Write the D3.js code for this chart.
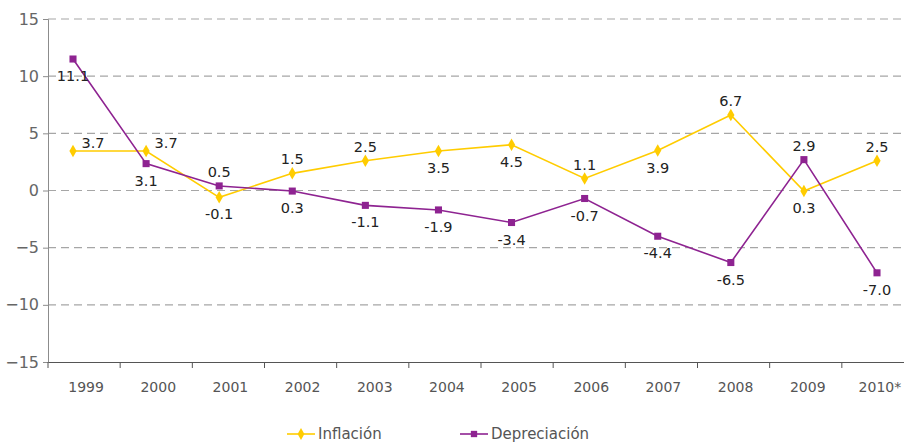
<!DOCTYPE html>
<html>
<head>
<meta charset="utf-8">
<script src="https://cdn.jsdelivr.net/npm/d3@7"></script>
<style>
  body { margin: 0; background: #fff; }
  svg { display: block; font-family: "DejaVu Sans", Verdana, sans-serif; }
</style>
</head>
<body>
<div class="graph"></div>
<script>
// data
var years = ['1999','2000','2001','2002','2003','2004','2005','2006','2007','2008','2009','2010*'];
var inflacion = [3.45, 3.45, -0.6, 1.5, 2.6, 3.45, 4.0, 1.05, 3.5, 6.6, -0.05, 2.6];
var inflacionLabels = ['3.7','3.7','-0.1','1.5','2.5','3.5','4.5','1.1','3.9','6.7','0.3','2.5'];
var depreciacion = [11.5, 2.35, 0.4, -0.05, -1.3, -1.7, -2.8, -0.7, -4.0, -6.3, 2.7, -7.2];
var depreciacionLabels = ['11.1','3.1','0.5','0.3','-1.1','-1.9','-3.4','-0.7','-4.4','-6.5','2.9','-7.0'];
var yTicks = [-15, -10, -5, 0, 5, 10, 15];

// where each data label sits relative to its point
var inflacionPos = ['right','right','below','above','above','below','below','above','below','above','below','above'];
var depreciacionPos = ['below','below','above','below','below','below','below','below','below','below','above','below'];

var w = 904, h = 443;
var svg = d3.select('div.graph').append('svg')
    .attr('width', w).attr('height', h);

// plot area
var m = {top: 19, left: 48, bottom: 362, right: 914};
var x = d3.scaleBand().domain(years).range([m.left, m.right]);
// markers don't sit on the band centres in the original, so they get their own scale
var xp = d3.scalePoint().domain(years).range([73, 877]);
var y = d3.scaleLinear().domain([-15, 15]).range([m.bottom, m.top]);
var px = function(i){ return xp(years[i]); };

// dashed grid
svg.append('g').selectAll('line')
    .data(yTicks.filter(function(d){ return d > -15; }))
    .enter().append('line')
    .attr('x1', m.left).attr('x2', w)
    .attr('y1', function(d){ return y(d); }).attr('y2', function(d){ return y(d); })
    .attr('stroke', '#a6a6a6').attr('stroke-width', 1.2)
    .attr('stroke-dasharray', '8,5');

// y axis
var yAxisG = svg.append('g')
    .attr('transform', 'translate(' + m.left + ',0)')
    .call(d3.axisLeft(y).tickValues(yTicks).tickSize(5).tickPadding(4));
yAxisG.select('.domain').attr('stroke', '#8c8c8c');
yAxisG.selectAll('.tick line').attr('stroke', '#8c8c8c');
yAxisG.selectAll('.tick text').attr('font-size', 16).attr('fill', '#666')
    .attr('font-family', '"DejaVu Sans", sans-serif');

// x axis
var xAxisG = svg.append('g')
    .attr('transform', 'translate(0,' + m.bottom + ')')
    .call(d3.axisBottom(x).tickSize(0).tickPadding(20));
xAxisG.select('.domain').attr('stroke', '#555');
xAxisG.selectAll('.tick text').attr('font-size', 14).attr('fill', '#555')
    .attr('dx', 2)
    .attr('font-family', '"DejaVu Sans", sans-serif');
svg.append('g').selectAll('line')
    .data(years)
    .enter().append('line')
    .attr('x1', function(d){ return x(d); }).attr('x2', function(d){ return x(d); })
    .attr('y1', m.bottom).attr('y2', m.bottom + 6)
    .attr('stroke', '#555');

var line = d3.line()
    .x(function(d, i){ return px(i); })
    .y(function(d){ return y(d); });

function drawSeries(values, labels, pos, color, shape) {
    var g = svg.append('g');
    g.append('path').datum(values)
        .attr('d', line)
        .attr('fill', 'none').attr('stroke', color).attr('stroke-width', 1.6);
    g.selectAll('.mark').data(values).enter().append('path')
        .attr('class', 'mark')
        .attr('transform', function(d, i){ return 'translate(' + [px(i), y(d)] + ')'; })
        .attr('d', d3.symbol().type(shape).size(shape === d3.symbolDiamond ? 45 : 50))
        .attr('fill', color);
    g.selectAll('.lbl').data(values).enter().append('text')
        .attr('class', 'lbl')
        .attr('x', function(d, i){ return px(i) + (pos[i] === 'right' ? 20 : 0); })
        .attr('y', function(d, i){
            var off = pos[i] === 'above' ? -14 : pos[i] === 'below' ? 17 : -8;
            return y(d) + off;
        })
        .attr('dy', '0.35em')
        .attr('text-anchor', 'middle')
        .attr('font-size', 14.5).attr('fill', '#222')
        .text(function(d, i){ return labels[i]; });
}

drawSeries(inflacion, inflacionLabels, inflacionPos, '#ffcc00', d3.symbolDiamond);
drawSeries(depreciacion, depreciacionLabels, depreciacionPos, '#8e2391', d3.symbolSquare);

// legend
var legend = [
    {name: 'Inflación', color: '#ffcc00', shape: d3.symbolDiamond, x: 287},
    {name: 'Depreciación', color: '#8e2391', shape: d3.symbolSquare, x: 460}
];
var lg = svg.selectAll('.legend').data(legend).enter().append('g')
    .attr('class', 'legend')
    .attr('transform', function(d){ return 'translate(' + [d.x, 434] + ')'; });
lg.append('line').attr('x1', 0).attr('x2', 28)
    .attr('stroke', function(d){ return d.color; }).attr('stroke-width', 1.6);
lg.append('path').attr('transform', 'translate(14,0)')
    .attr('d', function(d){ return d3.symbol().type(d.shape).size(40)(); })
    .attr('fill', function(d){ return d.color; });
lg.append('text').attr('x', 31).attr('dy', '0.35em')
    .attr('font-size', 15).attr('fill', '#555')
    .text(function(d){ return d.name; });
</script>
</body>
</html>
